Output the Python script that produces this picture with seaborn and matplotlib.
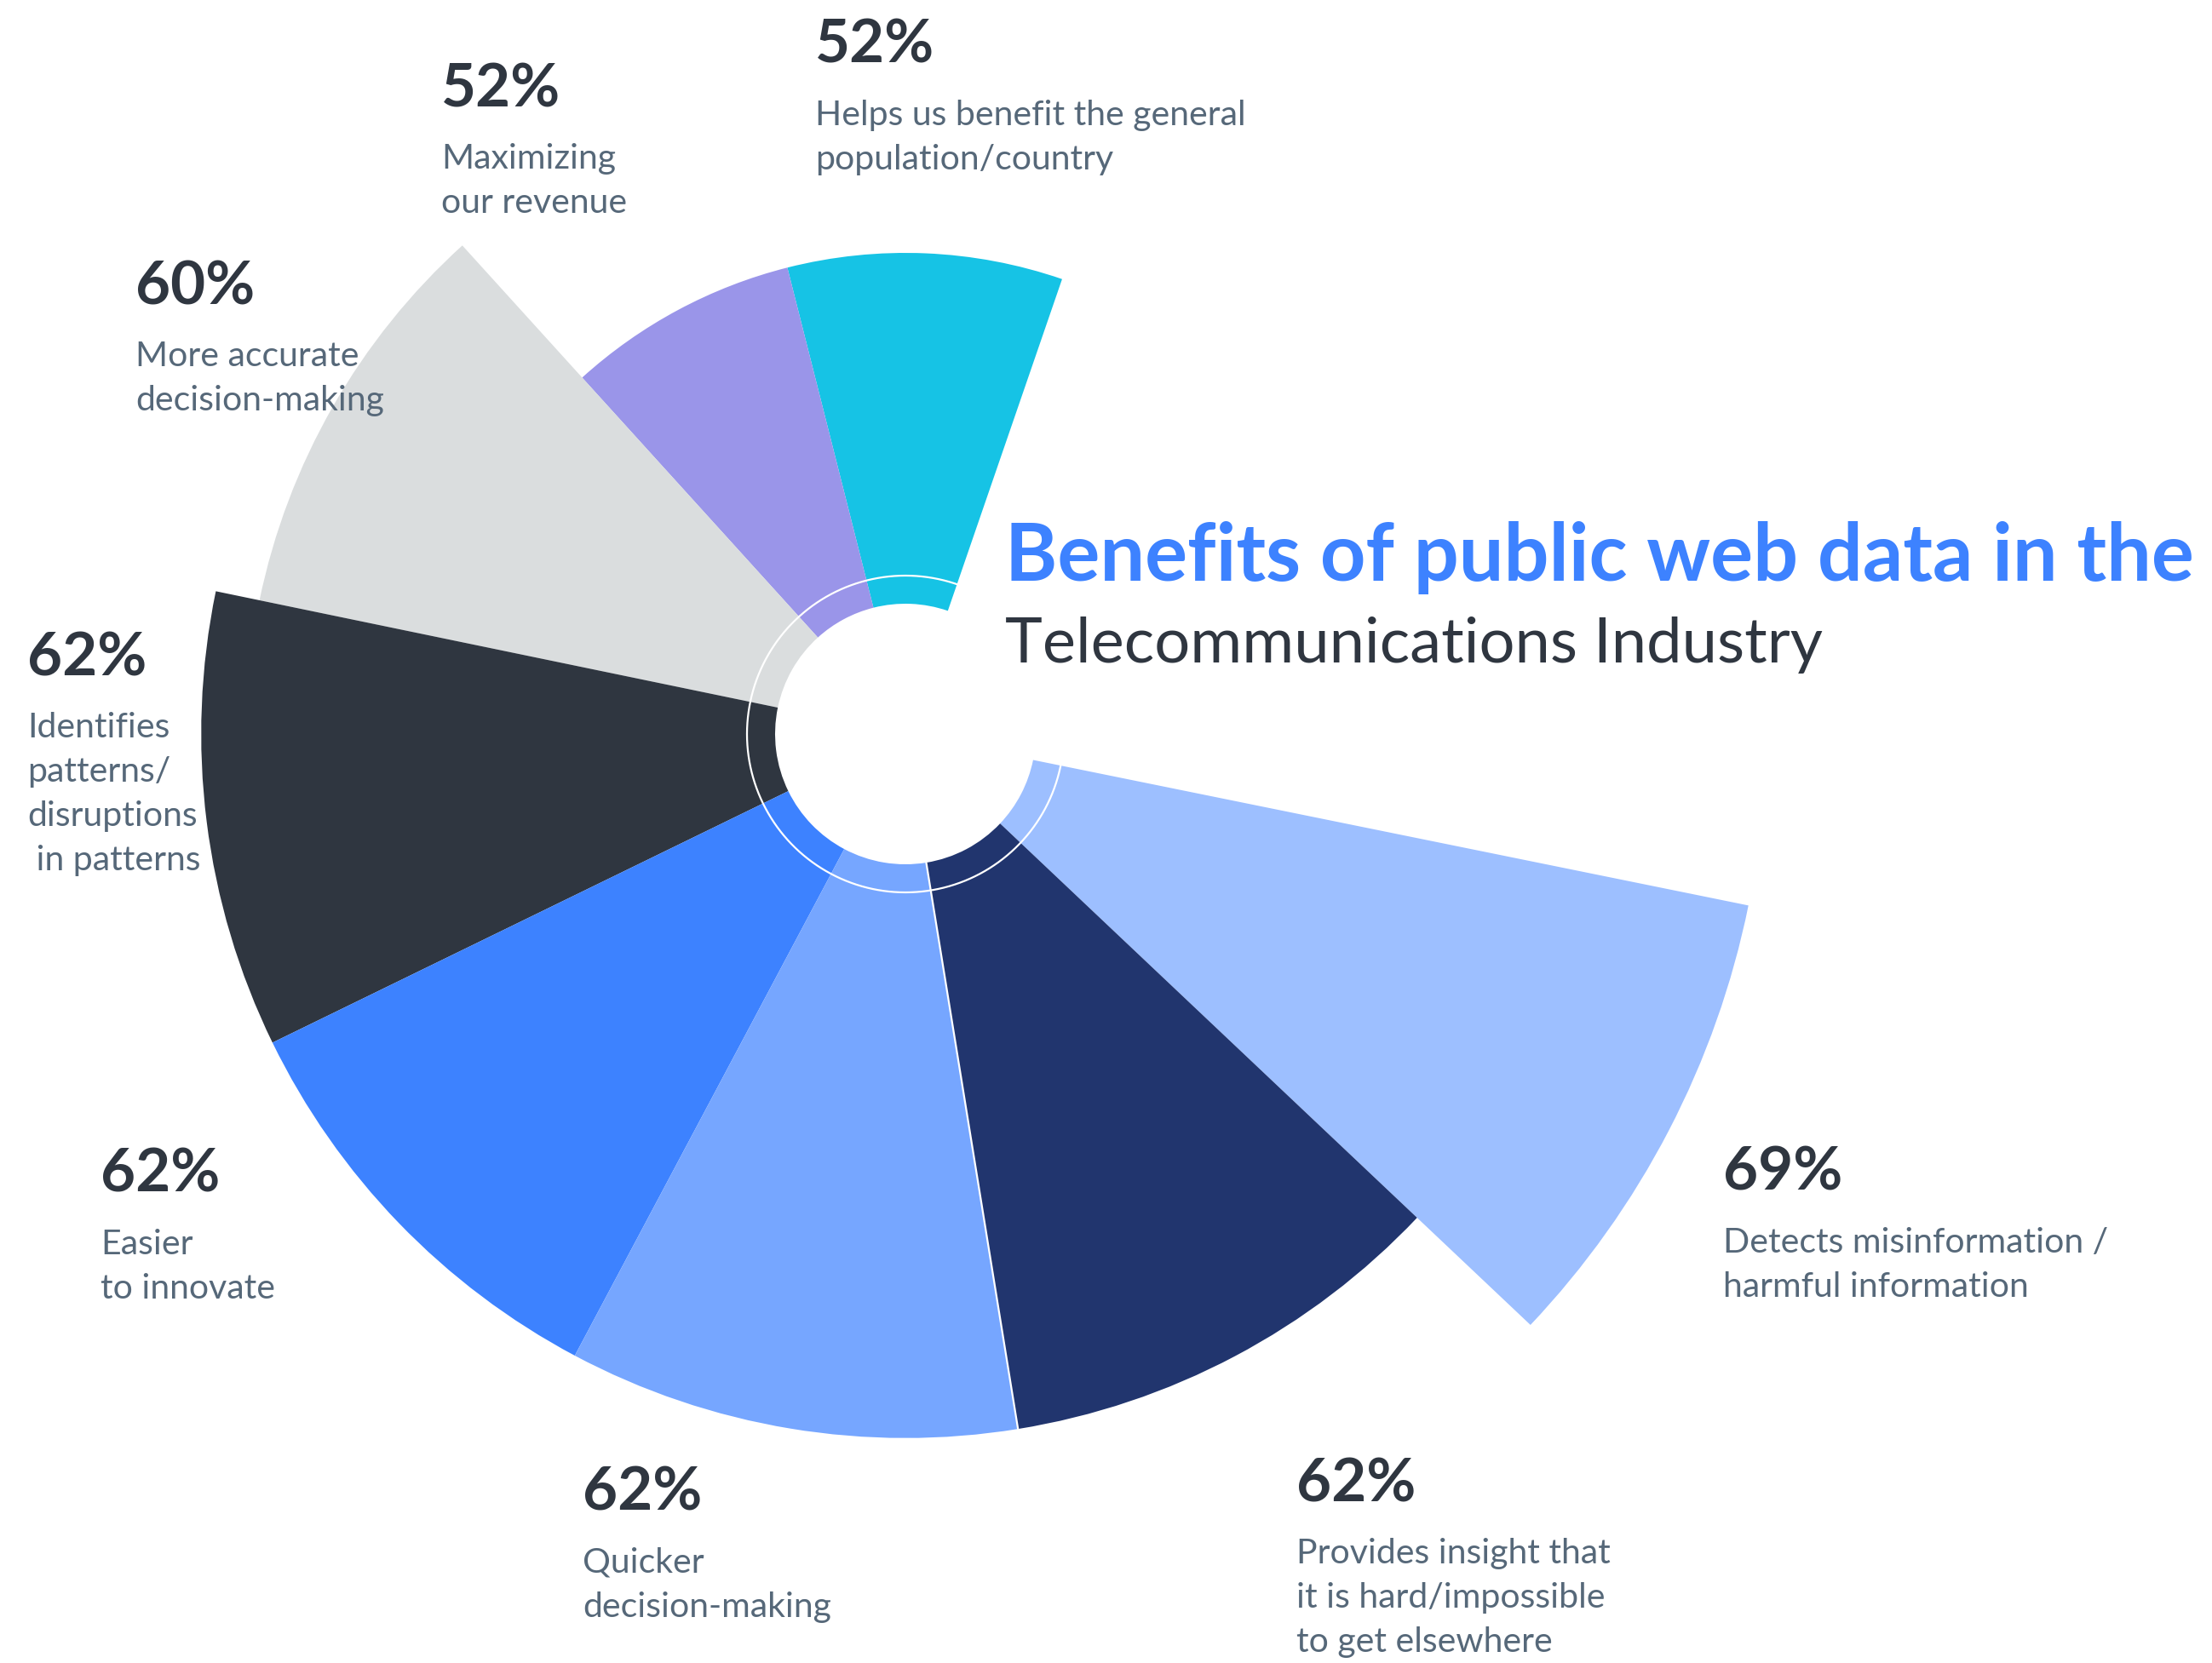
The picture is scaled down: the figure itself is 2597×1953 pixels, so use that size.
import numpy as np
import matplotlib
matplotlib.use("Agg")
import matplotlib.pyplot as plt
import seaborn as sns

# ---------------- data ----------------
categories = [
    "Detects misinformation /\nharmful information",
    "Helps us benefit the general\npopulation/country",
    "Maximizing\nour revenue",
    "More accurate\ndecision-making",
    "Identifies\npatterns/\ndisruptions\n in patterns",
    "Easier\nto innovate",
    "Quicker\ndecision-making",
    "Provides insight that\nit is hard/impossible\nto get elsewhere",
]
values = [69, 52, 52, 60, 62, 62, 62, 62]
title_main = "Benefits of public web data in the"
title_sub = "Telecommunications Industry"

# ---------------- layout / style ----------------
wedge_colors = ["#9DBFFF", "#16C3E5", "#9A95E9", "#DADDDE",
                "#2F3640", "#3D82FF", "#76A6FF", "#21356E"]
# angular extent of each wedge (degrees, counter-clockwise from east)
span_start = [316.6, 71.0, 104.2, 132.2, 168.3, 206.0, 242.0, 279.2]
span_end = [348.5, 104.2, 132.2, 168.3, 206.0, 242.0, 279.2, 316.6]
# label anchor: left x and baseline of the percent line (pixels, from top-left)
label_x = [2023, 957, 518, 159, 32, 118, 684, 1522]
label_y = [1398, 74, 125, 357, 793, 1400, 1774, 1763]
desc_first_gap = 73
desc_line_gap = 52

W, H, DPI = 2597, 1953, 100
CX, CY = 1063, 862            # centre of the rose (px)
HOLE_PX, RING_PX = 153, 186   # inner hole and thin white ring radius (px)
PX_A, VAL_A = 565, 52         # radial scale: value -> px
PX_B, VAL_B = 1010, 69
k = (PX_B - PX_A) / (VAL_B - VAL_A)
v0 = VAL_A - PX_A / k          # value at the centre
R_AX = 1200                    # half size of the polar axes (px)

DARK = "#2F3640"
DESC = "#566879"
BLUE = "#3D82FF"

sns.set_theme(style="white")
plt.rcParams["font.family"] = ["Lato", "DejaVu Sans"]

fig = plt.figure(figsize=(W / DPI, H / DPI), dpi=DPI)
fig.patch.set_facecolor("white")

ax = fig.add_axes([(CX - R_AX) / W, (H - CY - R_AX) / H, 2 * R_AX / W, 2 * R_AX / H],
                  projection="polar")
ax.set_axis_off()
ax.set_ylim(v0, v0 + R_AX / k)

r_hole = v0 + HOLE_PX / k
r_ring = v0 + RING_PX / k

palette = sns.color_palette(wedge_colors)
starts = np.deg2rad(span_start)
ends = np.deg2rad(span_end)
widths = ends - starts
mids = starts + widths / 2
vals = np.array(values, dtype=float)
ax.bar(mids, vals - r_hole, width=widths, bottom=r_hole, color=palette,
       edgecolor="none", linewidth=0, align="center", zorder=2)

# thin white ring
th = np.linspace(0, 2 * np.pi, 1441)
ax.plot(th, np.full_like(th, r_ring), color="white", lw=1.6, zorder=3)
# thin white separator between "Quicker" and "Provides" wedges
b = ends[6]
ax.plot([b, b], [r_hole, min(values[6], values[7])], color="white", lw=1.6, zorder=3)

# ---------------- labels ----------------
def fx(x):
    return x / W

def fy(y):
    return 1 - y / H

for cat, val, x, y in zip(categories, values, label_x, label_y):
    fig.text(fx(x), fy(y), f"{val}%", fontsize=51, fontweight="bold",
             color=DARK, va="baseline", ha="left", zorder=5)
    for i, line in enumerate(cat.split("\n")):
        fig.text(fx(x), fy(y + desc_first_gap + i * desc_line_gap), line,
                 fontsize=29.5, color=DESC, va="baseline", ha="left", zorder=5)

# ---------------- title ----------------
t1 = fig.text(fx(1180), fy(682), title_main, fontsize=67, fontweight="bold",
              color=BLUE, va="baseline", ha="left")
t2 = fig.text(fx(1180), fy(778), title_sub, fontsize=55, fontweight="normal",
              color=DARK, va="baseline", ha="left")

# fit title widths to the reference extents
fig.canvas.draw()
renderer = fig.canvas.get_renderer()
for t, target in ((t1, 1395), (t2, 960)):
    w = t.get_window_extent(renderer).width
    t.set_fontsize(t.get_fontsize() * target / w)

fig.savefig("out.png", dpi=DPI, facecolor="white")
